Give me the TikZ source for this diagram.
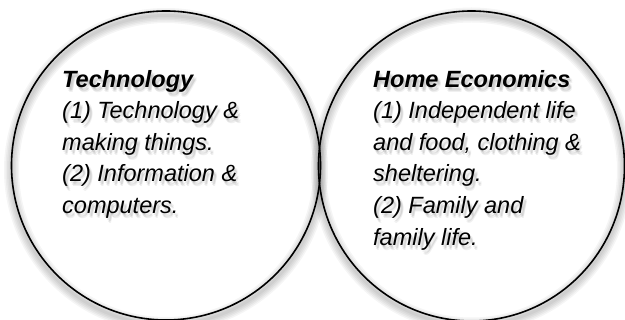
\documentclass[tikz,border=0pt]{standalone}
\usepackage{fontspec}
\setmainfont{Liberation Sans}

\newcommand{\techlines}{\textbf{Technology}\\(1) Technology \&\\making things.\\(2) Information \&\\computers.}
\newcommand{\homelines}{\textbf{Home Economics}\\(1) Independent life\\and food, clothing \&\\sheltering.\\(2) Family and\\family life.}

\tikzset{
  bubble/.style={draw=black, line width=1.6pt},
  glow/.style={draw=black, line width=#1, opacity=0.04},
  blurb/.style={align=left, inner sep=0pt, anchor=north west,
    font=\fontsize{23.5}{31.6}\selectfont\itshape},
}

\begin{document}
\begin{tikzpicture}[x=1pt,y=-1pt]
  \useasboundingbox (0,0) rectangle (625,320);
  \fill[white] (0,0) rectangle (625,320);

  % soft shadow round both circles, dropped a little
  \foreach \w in {3,6,...,15}{
    \draw[glow=\w pt] (166,170) circle[radius=154.5];
    \draw[glow=\w pt] (471.5,170) circle[x radius=153, y radius=155];
  }

  % the two circles
  \draw[bubble] (166,165.5) circle[radius=154.5];
  \draw[bubble] (471.5,166) circle[x radius=153, y radius=155];

  % blurred copies of the text under it
  \foreach \dx/\dy [count=\i] in {1/2,2/4,3/3,3/5}{
    \node[blurb, opacity=0.06, name=techglow\i] at (62+\dx,69.8+\dy) {\techlines};
    \node[blurb, opacity=0.06, name=homeglow\i] at (373+\dx,69.8+\dy) {\homelines};
  }

  % text of each subject
  \node[blurb] (tech) at (62,69.8) {\techlines};
  \node[blurb] (home) at (373,69.8) {\homelines};
\end{tikzpicture}
\end{document}
